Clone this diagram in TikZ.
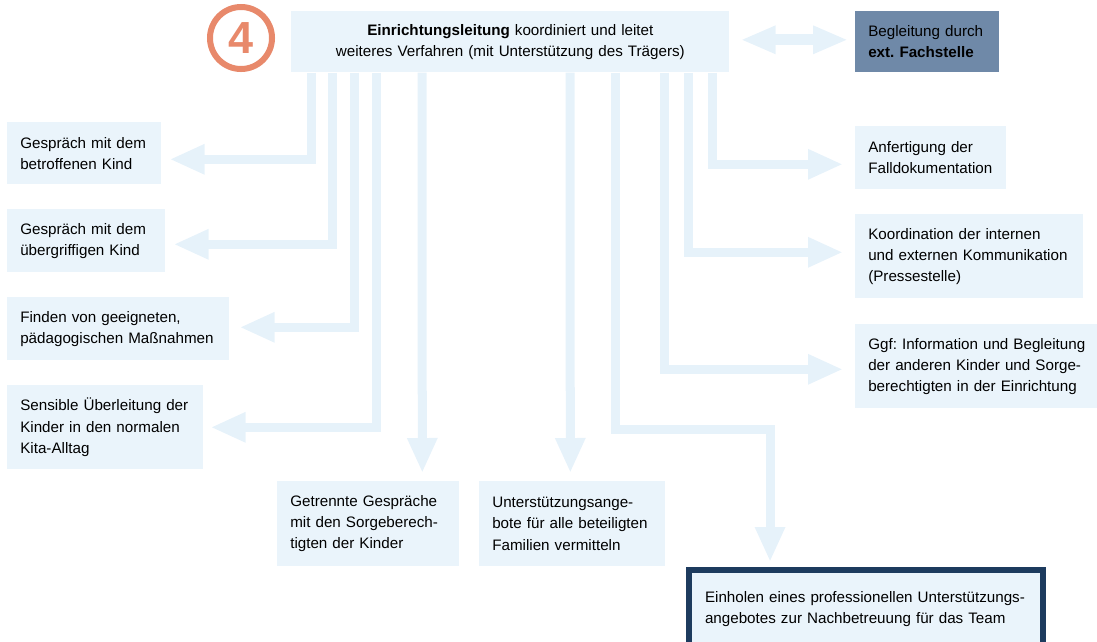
\documentclass[tikz,border=0pt]{standalone}
\usepackage{fontspec}
\setmainfont{Liberation Sans}
\usetikzlibrary{arrows.meta, positioning}
\frenchspacing

\definecolor{boxblue}{HTML}{EAF4FB}
\definecolor{flowblue}{HTML}{E6F2FA}
\definecolor{fachblue}{HTML}{6F89A8}
\definecolor{navy}{HTML}{1D3B5E}
\definecolor{numorange}{HTML}{E8896B}

\newcommand{\txt}{\fontsize{10.8}{15}\selectfont}

\begin{document}
\begin{tikzpicture}[x=0.025cm, y=-0.025cm,
        box/.style={fill=boxblue, anchor=north west, align=left, inner xsep=0.325cm, inner ysep=0pt, font=\txt},
        flow/.style={draw=flowblue, line width=0.225cm, -{Triangle[length=0.875cm, width=0.7cm]}}]
        \clip (0,0) rectangle (1097,641);
        \node[draw=numorange, line width=0.15cm, circle, minimum size=1.55cm, inner sep=0pt, text=numorange, font=\fontsize{32}{32}\selectfont\bfseries] (num) at (241,38) {4};
        \node[box, align=center, text width=10.3cm, minimum height=1.525cm] (main) at (291,11) {\textbf{Einrichtungsleitung} koordiniert und leitet\\weiteres Verfahren (mit Unterstützung des Trägers)};
        \node[box, fill=fachblue, text width=2.95cm, minimum height=1.525cm] (fach) at (855,11) {Begleitung durch\\\textbf{ext. Fachstelle}};
        % links
        \node[box, text width=3.2cm, minimum height=1.55cm] (b1) at (7,122) {Gespräch mit dem\\betroffenen Kind};
        \node[box, text width=3.3cm, minimum height=1.575cm] (b2) at (7,209) {Gespräch mit dem\\übergriffigen Kind};
        \node[box, text width=4.9cm, minimum height=1.575cm] (b3) at (7,297) {Finden von geeigneten,\\pädagogischen Maßnahmen};
        \node[box, text width=4.25cm, minimum height=2.1cm] (b4) at (7,385) {Sensible Überleitung der\\Kinder in den normalen\\Kita-Alltag};
        % unten
        \node[box, text width=3.9cm, minimum height=2.125cm] (b5) at (277,481) {Getrennte Gespräche\\mit den Sorgeberech-\\tigten der Kinder};
        \node[box, text width=4.0cm, minimum height=2.125cm] (b6) at (479,481) {Unterstützungsange-\\bote für alle beteiligten\\Familien vermitteln};
        \node[box, draw=navy, line width=0.15cm, inner xsep=0.4cm, text width=8.05cm, minimum height=1.95cm] (b7) at (686,567) {Einholen eines professionellen Unterstützungs-\\angebotes zur Nachbetreuung für das Team};
        % rechts
        \node[box, text width=3.125cm, minimum height=1.575cm] (b8) at (855,126) {Anfertigung der\\Falldokumentation};
        \node[box, text width=5.05cm, minimum height=2.1cm] (b9) at (855,214) {Koordination der internen\\und externen Kommunikation\\(Pressestelle)};
        \node[box, text width=5.6cm, minimum height=2.1cm] (b10) at (855,324) {Ggf: Information und Begleitung\\der anderen Kinder und Sorge-\\berechtigten in der Einrichtung};

        \draw[flow, line width=0.28cm, {Triangle[length=0.875cm, width=0.65cm]}-{Triangle[length=0.875cm, width=0.65cm]}] ([shift={(11,-2)}]main.east) -- ([shift={(-7,-2)}]fach.west);
        \draw[flow] ([shift={(20,0)}]main.south west) |- ([shift={(8,6)}]b1.east);
        \draw[flow] ([shift={(41,0)}]main.south west) |- ([shift={(8,3.5)}]b2.east);
        \draw[flow] ([shift={(63,0)}]main.south west) |- ([shift={(10,-1.5)}]b3.east);
        \draw[flow] ([shift={(85,0)}]main.south west) |- ([shift={(7,0)}]b4.east);
        \draw[flow] ([shift={(131,0)}]main.south west) -- ([shift={(54,-8)}]b5.north);
        \draw[flow] ([shift={(279,0)}]main.south west) -- ([shift={(-2,-8)}]b6.north);
        \draw[flow] ([shift={(324,0)}]main.south west) |- ([shift={(-96,-138)}]b7.north) -- ([shift={(-96,-5)}]b7.north);
        \draw[flow] ([shift={(373,0)}]main.south west) |- ([shift={(-12,3)}]b10.west);
        \draw[flow] ([shift={(397,0)}]main.south west) |- ([shift={(-12,-4)}]b9.west);
        \draw[flow] ([shift={(421,0)}]main.south west) |- ([shift={(-12,6.5)}]b8.west);
\end{tikzpicture}
\end{document}
